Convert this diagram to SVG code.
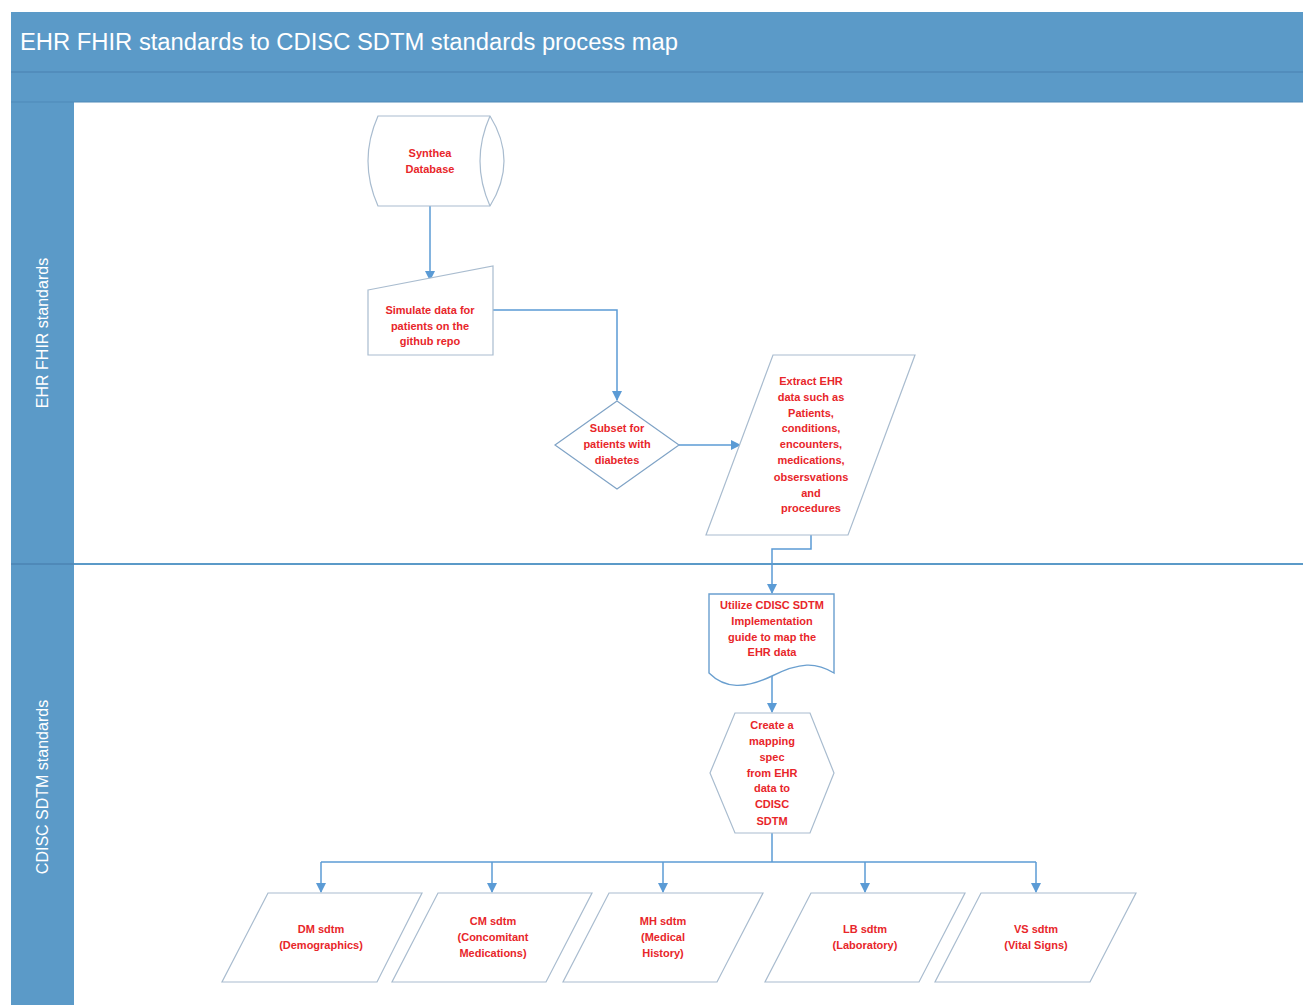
<svg xmlns="http://www.w3.org/2000/svg" width="1303" height="1005" viewBox="0 0 1303 1005">
<defs>
<style>
.lane{fill:#5b9ac8}
.hdr{fill:#ffffff;font-family:"Liberation Sans",Arial,sans-serif}
.node{fill:#ffffff;stroke:#a9bccf;stroke-width:1.2}
.doc{fill:#ffffff;stroke:#6a9fcf;stroke-width:1.4}
.t{fill:#e8262a;font-family:"Liberation Sans",Arial,sans-serif;font-weight:bold;font-size:11px;text-anchor:middle}
.c{fill:none;stroke:#5b9bd5;stroke-width:1.5}
</style>
<marker id="ah" markerWidth="10" markerHeight="10" refX="9" refY="5" orient="auto" markerUnits="userSpaceOnUse">
<path d="M0,0 L10,5 L0,10 Z" fill="#5b9bd5"/>
</marker>
</defs>
<rect width="1303" height="1005" fill="#ffffff"/>
<g id="pool">
<rect class="lane" x="11" y="12" width="1292" height="993"/>
<line x1="11" y1="72" x2="1303" y2="72" stroke="#4f89b8" stroke-width="1.5"/>
<rect x="74" y="102" width="1229" height="903" fill="#ffffff"/>
<line x1="11" y1="102" x2="1303" y2="102" stroke="#4f89b8" stroke-width="1"/>
<line x1="11" y1="564" x2="74" y2="564" stroke="#4f89b8" stroke-width="2"/>
<line x1="74" y1="564" x2="1303" y2="564" stroke="#5b9ac8" stroke-width="2"/>
<text class="hdr" x="20" y="50" font-size="23" textLength="658" lengthAdjust="spacingAndGlyphs">EHR FHIR standards to CDISC SDTM standards process map</text>
<text class="hdr" x="0" y="0" font-size="16" text-anchor="middle" transform="translate(48,333) rotate(-90)">EHR FHIR standards</text>
<text class="hdr" x="0" y="0" font-size="16" text-anchor="middle" transform="translate(48,787) rotate(-90)">CDISC SDTM standards</text>
</g>
<g id="connectors">
<path class="c" d="M430,206 V280" marker-end="url(#ah)"/>
<path class="c" d="M493,310 H617 V400" marker-end="url(#ah)"/>
<path class="c" d="M679,445 H740" marker-end="url(#ah)"/>
<path class="c" d="M811,535 V549 H772 V593" marker-end="url(#ah)"/>
<path class="c" d="M772,676 V712" marker-end="url(#ah)"/>
<path class="c" d="M772,833 V862"/>
<path class="c" d="M321,862 H1036"/>
<path class="c" d="M321,862 V892" marker-end="url(#ah)"/>
<path class="c" d="M492,862 V892" marker-end="url(#ah)"/>
<path class="c" d="M663,862 V892" marker-end="url(#ah)"/>
<path class="c" d="M865,862 V892" marker-end="url(#ah)"/>
<path class="c" d="M1036,862 V892" marker-end="url(#ah)"/>
</g>
<g id="synthea">
<path class="node" d="M378,116 H490 Q518,161 490,206 H378 Q358,161 378,116 Z"/>
<path class="node" d="M490,116 Q470,161 490,206" fill="none"/>
<text class="t" x="430" y="157">Synthea</text>
<text class="t" x="430" y="173">Database</text>
</g>
<g id="simulate">
<path class="node" d="M368,290 L493,266 V355 H368 Z"/>
<text class="t" x="430" y="314">Simulate data for</text>
<text class="t" x="430" y="330">patients on the</text>
<text class="t" x="430" y="345">github repo</text>
</g>
<g id="subset">
<path class="node" d="M617,401 L679,445 L617,489 L555,445 Z" style="stroke:#7fa3c6"/>
<text class="t" x="617" y="432">Subset for</text>
<text class="t" x="617" y="448">patients with</text>
<text class="t" x="617" y="464">diabetes</text>
</g>
<g id="extract">
<path class="node" d="M773,355 H915 L848,535 H706 Z"/>
<text class="t" x="811" y="385">Extract  EHR</text>
<text class="t" x="811" y="401">data such as</text>
<text class="t" x="811" y="417">Patients,</text>
<text class="t" x="811" y="432">conditions,</text>
<text class="t" x="811" y="448">encounters,</text>
<text class="t" x="811" y="464">medications,</text>
<text class="t" x="811" y="481">obsersvations</text>
<text class="t" x="811" y="497">and</text>
<text class="t" x="811" y="512">procedures</text>
</g>
<g id="utilize">
<path class="doc" d="M709,594 H834 V673 C816,662 800,662 772,676 C745,689 725,689 709,673 Z"/>
<text class="t" x="772" y="609">Utilize CDISC SDTM</text>
<text class="t" x="772" y="625">Implementation</text>
<text class="t" x="772" y="641">guide to map the</text>
<text class="t" x="772" y="656">EHR data</text>
</g>
<g id="mapping">
<path class="node" d="M735,713 H810 L834,773 L810,833 H735 L710,773 Z"/>
<text class="t" x="772" y="729">Create a</text>
<text class="t" x="772" y="745">mapping</text>
<text class="t" x="772" y="761">spec</text>
<text class="t" x="772" y="777">from EHR</text>
<text class="t" x="772" y="792">data to</text>
<text class="t" x="772" y="808">CDISC</text>
<text class="t" x="772" y="825">SDTM</text>
</g>
<g id="dm">
<path class="node" d="M268,893 H422 L377,982 H222 Z"/>
<text class="t" x="321" y="933">DM sdtm</text>
<text class="t" x="321" y="949">(Demographics)</text>
</g>
<g id="cm">
<path class="node" d="M438,893 H592 L546,982 H392 Z"/>
<text class="t" x="493" y="925">CM sdtm</text>
<text class="t" x="493" y="941">(Concomitant</text>
<text class="t" x="493" y="957">Medications)</text>
</g>
<g id="mh">
<path class="node" d="M609,893 H763 L717,982 H563 Z"/>
<text class="t" x="663" y="925">MH sdtm</text>
<text class="t" x="663" y="941">(Medical</text>
<text class="t" x="663" y="957">History)</text>
</g>
<g id="lb">
<path class="node" d="M811,893 H965 L919,982 H765 Z"/>
<text class="t" x="865" y="933">LB sdtm</text>
<text class="t" x="865" y="949">(Laboratory)</text>
</g>
<g id="vs">
<path class="node" d="M981,893 H1136 L1090,982 H935 Z"/>
<text class="t" x="1036" y="933">VS sdtm</text>
<text class="t" x="1036" y="949">(Vital Signs)</text>
</g>
</svg>
